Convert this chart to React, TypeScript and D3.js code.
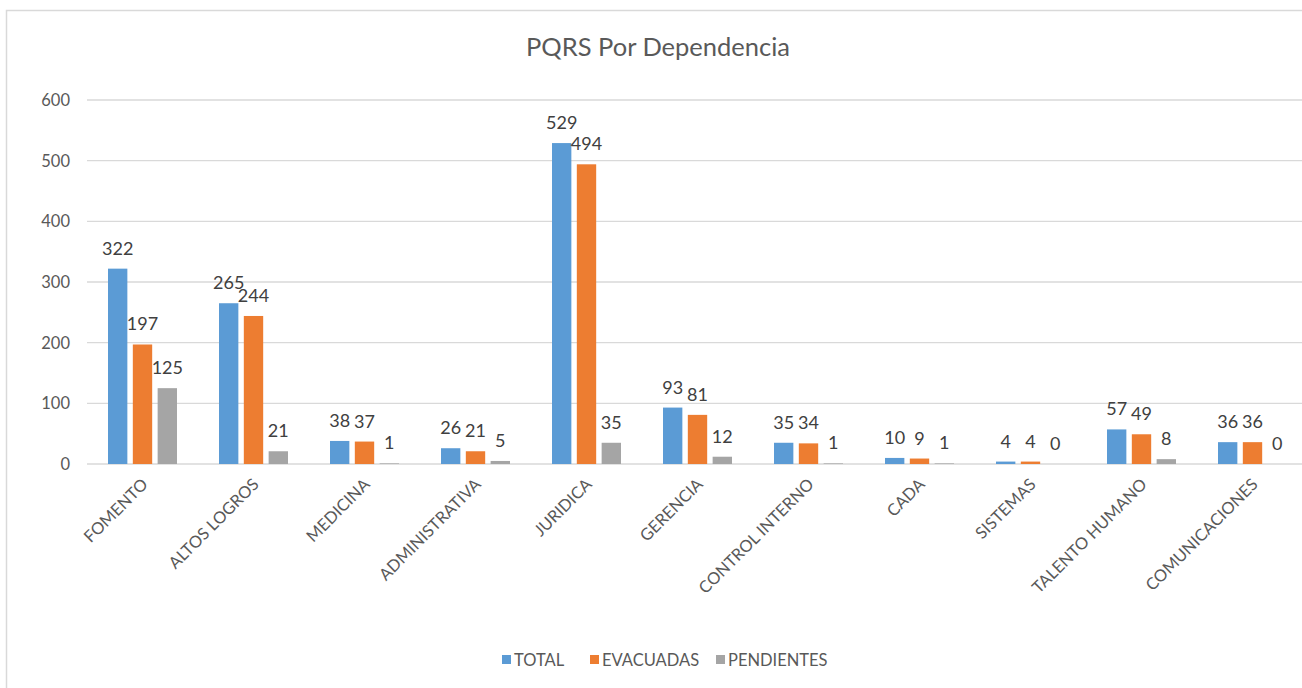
import React from "react";
import * as d3 from "d3";

const categories = ["FOMENTO","ALTOS LOGROS","MEDICINA","ADMINISTRATIVA","JURIDICA","GERENCIA","CONTROL INTERNO","CADA","SISTEMAS","TALENTO HUMANO","COMUNICACIONES"];
const total = [322,265,38,26,529,93,35,10,4,57,36];
const evacuadas = [197,244,37,21,494,81,34,9,4,49,36];
const pendientes = [125,21,1,5,35,12,1,1,0,8,0];
const seriesNames = ["TOTAL","EVACUADAS","PENDIENTES"];
const colors = ["#5B9BD5","#ED7D31","#A5A5A5"];
const yTicks = [0,100,200,300,400,500,600];

const W = 1302, H = 688;
const FONT = "Lato, 'Open Sans', sans-serif";

export default function App() {
  const x = d3.scaleBand<string>().domain(categories).range([87, 1308]).paddingInner(0).paddingOuter(0);
  const y = d3.scaleLinear().domain([0, 600]).range([464, 100]);
  const inner = d3.scaleBand<string>().domain(seriesNames).range([-34.5, 34.5]).paddingInner(0.22);
  const series = [total, evacuadas, pendientes];
  const legendX = [502, 590, 716];

  return (
    <svg width={W} height={H} style={{ position: "absolute", left: 0, top: 0, background: "#fff" }}>
      <rect x={6.5} y={10.5} width={1300} height={690} fill="#fff" stroke="#d9d9d9" strokeWidth={1.5} />
      <text x={658} y={56} textAnchor="middle" fontSize={25.5} fill="#595959" fontFamily={FONT}>PQRS Por Dependencia</text>
      {yTicks.map(t => (
        <g key={t}>
          <line x1={87} x2={1308} y1={y(t)} y2={y(t)} stroke="#d9d9d9" strokeWidth={1.3} />
          <text x={70} y={y(t) + 6} textAnchor="end" fontSize={16.5} fill="#595959" fontFamily={FONT}>{t}</text>
        </g>
      ))}
      {categories.map((c, i) => {
        const cx = (x(c) as number) + x.bandwidth() / 2;
        return (
          <g key={c}>
            {series.map((s, k) => {
              const bx = cx + (inner(seriesNames[k]) as number);
              const bw = inner.bandwidth();
              const v = s[i];
              return (
                <g key={k}>
                  <rect x={bx} y={y(v)} width={bw} height={y(0) - y(v)} fill={colors[k]} />
                  <text x={bx + bw / 2} y={y(v) - 14} textAnchor="middle" fontSize={18} fill="#404040" fontFamily={FONT}>{v}</text>
                </g>
              );
            })}
            <text transform={`translate(${cx - 2},${477}) rotate(-45)`} textAnchor="end" dy="0.72em" fontSize={16.5} fill="#595959" fontFamily={FONT}>{c}</text>
          </g>
        );
      })}
      {seriesNames.map((n, k) => (
        <g key={n}>
          <rect x={legendX[k]} y={655} width={9} height={9} fill={colors[k]} />
          <text x={legendX[k] + 12} y={666} fontSize={16.5} fill="#595959" fontFamily={FONT}>{n}</text>
        </g>
      ))}
    </svg>
  );
}
